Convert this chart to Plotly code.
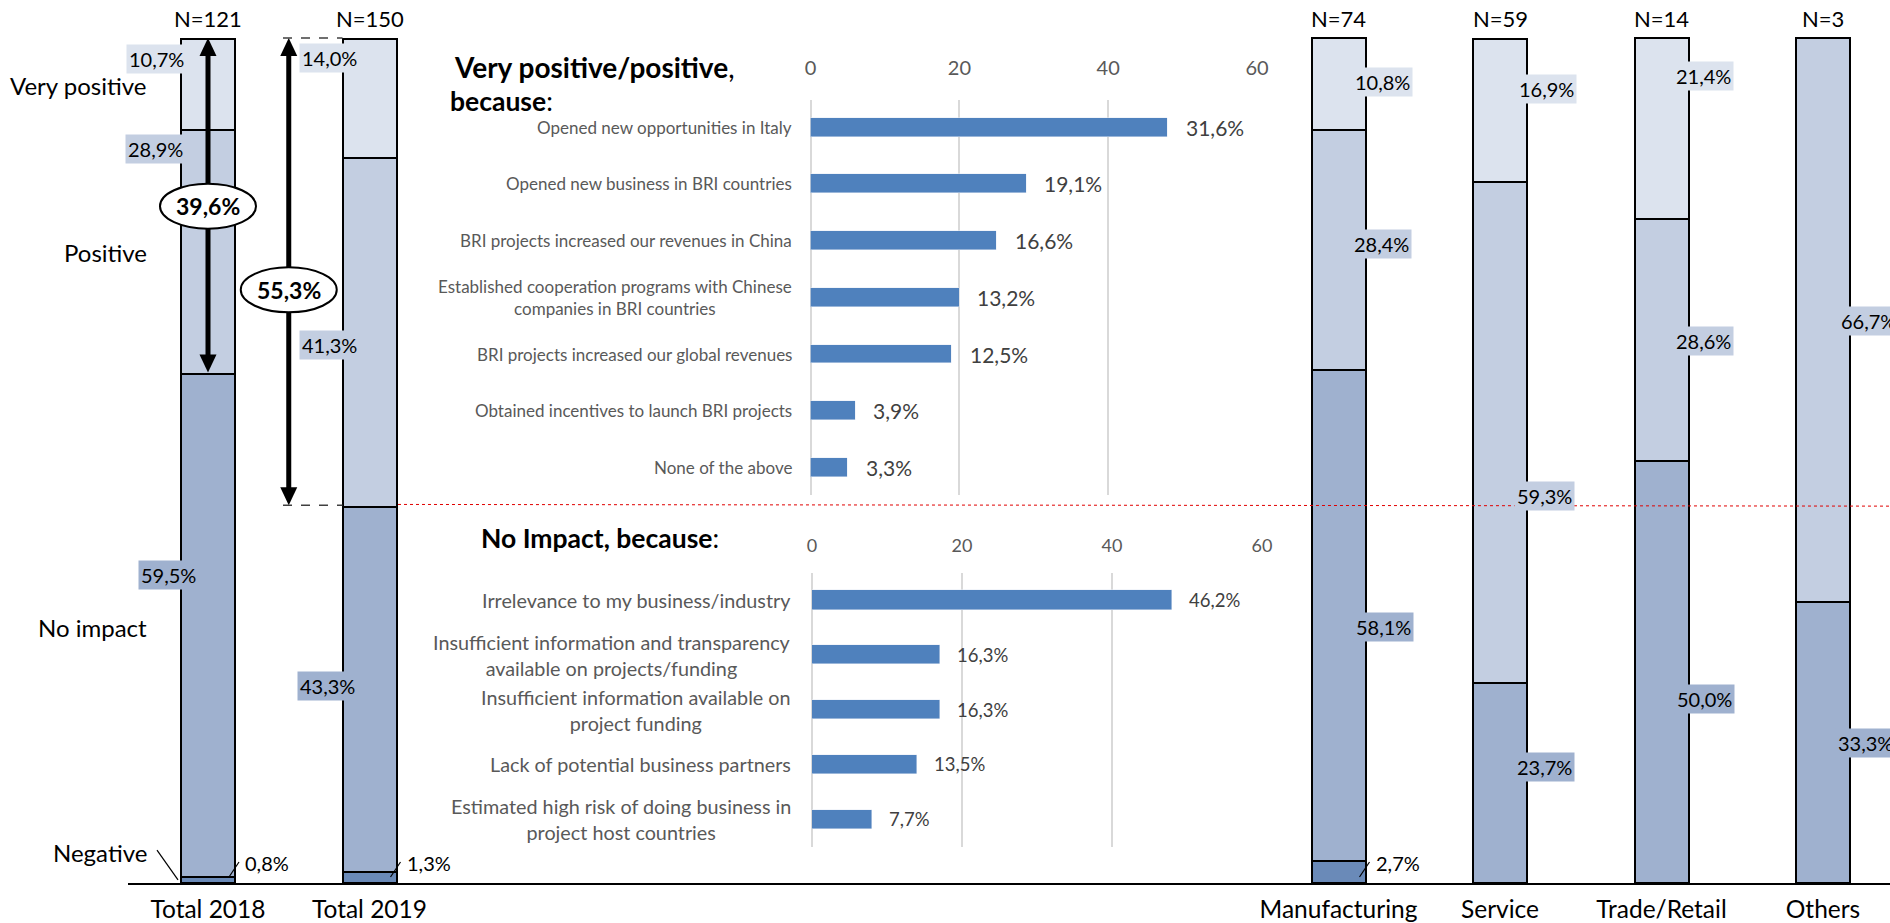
import plotly.graph_objects as go

# ---------------- data ----------------
categories = ["Total 2018", "Total 2019", "Manufacturing", "Service", "Trade/Retail", "Others"]
sample_sizes = ["N=121", "N=150", "N=74", "N=59", "N=14", "N=3"]
very_positive = [10.7, 14.0, 10.8, 16.9, 21.4, 0.0]
positive = [28.9, 41.3, 28.4, 59.3, 28.6, 66.7]
no_impact = [59.5, 43.3, 58.1, 23.7, 50.0, 33.3]
negative = [0.8, 1.3, 2.7, 0.0, 0.0, 0.0]

pos_reasons = [
    "Opened new opportunities in Italy",
    "Opened new business in BRI countries",
    "BRI projects increased our revenues in China",
    "Established cooperation programs with Chinese<br>companies in BRI countries",
    "BRI projects increased our global revenues",
    "Obtained incentives to launch BRI projects",
    "None of the above",
]
pos_counts = [48, 29, 25, 20, 19, 6, 5]
pos_shares = [31.6, 19.1, 16.6, 13.2, 12.5, 3.9, 3.3]

noimp_reasons = [
    "Irrelevance to my business/industry",
    "Insufficient information and transparency<br>available on projects/funding",
    "Insufficient information available on<br>project funding",
    "Lack of potential business partners",
    "Estimated high risk of doing business in<br>project host countries",
]
noimp_counts = [48, 17, 17, 14, 8]
noimp_shares = [46.2, 16.3, 16.3, 13.5, 7.7]

reason_ticks = [0, 20, 40, 60]
level_names = ["Very positive", "Positive", "No impact", "Negative"]

# ---------------- styling / geometry ----------------
FONT = "Lato, 'Open Sans', sans-serif"
W, H = 1890, 923
C_VP, C_P, C_NI, C_NEG = "#DCE3EE", "#C3CEE1", "#9FB1CF", "#6A8AB8"
BAR_BLUE = "#4F81BD"
GRID = "#D9D9D9"


def fmt(v):
    return f"{v:.1f}".replace(".", ",") + "%"


def fx(p):
    return p / W


def fy(p):
    return 1 - p / H


X0_PX, STEP_PX = 208.0, 161.5
BASE_PX, UNIT_PX = 883.0, 8.45
Y_TOP = 101.0
cat_x = [0, 1, 7, 8, 9, 10]
BAR_W = 54 / STEP_PX

fig = go.Figure()

# ---------------- stacked bars ----------------
stack = [(negative, C_NEG), (no_impact, C_NI), (positive, C_P), (very_positive, C_VP)]
for vals, col in stack:
    fig.add_trace(go.Bar(
        x=cat_x, y=vals, width=BAR_W, marker=dict(color=col, line=dict(color="black", width=2)),
        xaxis="x", yaxis="y", hoverinfo="skip"))

# ---------------- reason bars ----------------
fig.add_trace(go.Bar(x=pos_counts, y=list(range(len(pos_counts))), orientation="h", width=0.335,
                     marker=dict(color=BAR_BLUE), xaxis="x2", yaxis="y2", hoverinfo="skip"))
fig.add_trace(go.Bar(x=noimp_counts, y=list(range(len(noimp_counts))), orientation="h", width=0.352,
                     marker=dict(color=BAR_BLUE), xaxis="x3", yaxis="y3", hoverinfo="skip"))

ann = []
shapes = []

# N labels
for i, n in enumerate(sample_sizes):
    ann.append(dict(x=cat_x[i], y=100, xref="x", yref="y", text=n, showarrow=False, yshift=20,
                    font=dict(family=FONT, size=22, color="black")))

# segment labels (placement: xshift px, y value)
label_place = {
    "Very positive": [(-52, 97.5), (-40, 97.6), (44, 94.8), (46, 94.0), (42, 95.5), None],
    "Positive": [(-53, 86.9), (-40, 63.7), (43, 75.6), (44, 45.8), (42, 64.1), (45, 66.5)],
    "No impact": [(-40, 36.4), (-42, 23.3), (45, 30.3), (44, 13.7), (43, 21.8), (42, 16.6)],
}
series_map = {"Very positive": (very_positive, C_VP), "Positive": (positive, C_P), "No impact": (no_impact, C_NI)}
for name, places in label_place.items():
    vals, col = series_map[name]
    for i, pl in enumerate(places):
        if pl is None or vals[i] <= 0:
            continue
        ann.append(dict(x=cat_x[i], y=pl[1], xref="x", yref="y", xshift=pl[0], text=fmt(vals[i]),
                        showarrow=False, bgcolor=col, borderpad=2, xanchor="center",
                        font=dict(family=FONT, size=20, color="black")))

# negative labels with leader lines
for i, v in enumerate(negative):
    if v <= 0:
        continue
    ann.append(dict(x=cat_x[i], y=2.4, xref="x", yref="y", xshift=35, xanchor="left", text=fmt(v),
                    showarrow=False, font=dict(family=FONT, size=20, color="black")))
    shapes.append(dict(type="line", xref="x", yref="y", x0=cat_x[i] + 0.13, y0=0.71,
                       x1=cat_x[i] + 0.192, y1=2.49, line=dict(color="black", width=1.2)))

# left level labels
for name, ypx in zip(level_names, [85, 252, 627, 852]):
    ann.append(dict(x=fx(149), y=fy(ypx), xref="paper", yref="paper", xanchor="right", yanchor="middle",
                    text=name, showarrow=False, font=dict(family=FONT, size=24, color="black")))
shapes.append(dict(type="line", xref="x", yref="y", x0=(157 - X0_PX) / STEP_PX, y0=3.9,
                   x1=(178 - X0_PX) / STEP_PX, y1=0.36, line=dict(color="black", width=1.2)))

# double arrows with ellipses
arrows = [
    (cat_x[0], 100 - (very_positive[0] + positive[0]), 80.1, fmt(very_positive[0] + positive[0])),
    ((cat_x[0] + cat_x[1]) / 2, 100 - (very_positive[1] + positive[1]), 70.2, fmt(very_positive[1] + positive[1])),
]
for ax_, yend, cy, txt in arrows:
    shapes.append(dict(type="line", xref="x", yref="y", x0=ax_, x1=ax_, y0=100 - 1.5, y1=yend + 1.5,
                       line=dict(color="black", width=5)))
    shapes.append(dict(type="path", xref="x", yref="y", xsizemode="pixel", ysizemode="pixel",
                       xanchor=ax_, yanchor=100, path="M 0 0 L -8.5 -18 L 8.5 -18 Z",
                       fillcolor="black", line=dict(width=0)))
    shapes.append(dict(type="path", xref="x", yref="y", xsizemode="pixel", ysizemode="pixel",
                       xanchor=ax_, yanchor=yend, path="M 0 0 L -8.5 18 L 8.5 18 Z",
                       fillcolor="black", line=dict(width=0)))
    shapes.append(dict(type="circle", xref="x", yref="y", xsizemode="pixel", ysizemode="pixel",
                       xanchor=ax_, yanchor=cy, x0=-48, x1=48, y0=-22.5, y1=22.5,
                       fillcolor="white", line=dict(color="black", width=2)))
    ann.append(dict(x=ax_, y=cy, xref="x", yref="y", text="<b>" + txt + "</b>", showarrow=False,
                    font=dict(family=FONT, size=23, color="black")))

# dashed guide lines for 2019
x_dash0 = (283 - X0_PX) / STEP_PX
x_dash1 = cat_x[1] - BAR_W / 2
for yv in [100, 100 - (very_positive[1] + positive[1])]:
    shapes.append(dict(type="line", xref="x", yref="y", x0=x_dash0, x1=x_dash1, y0=yv, y1=yv,
                       line=dict(color="#404040", width=1.5, dash="dash")))

# red dotted line
shapes.append(dict(type="line", xref="paper", yref="y", x0=fx(398), x1=1, y0=44.8, y1=44.6,
                   line=dict(color="#E00000", width=1, dash="dot")))

# reason chart titles
ann.append(dict(x=fx(452), y=fy(67), xref="paper", yref="paper", xanchor="left", yanchor="middle",
                text="<b>Very positive/positive</b>,", showarrow=False,
                font=dict(family=FONT, size=28, color="black")))
ann.append(dict(x=fx(448), y=fy(101), xref="paper", yref="paper", xanchor="left", yanchor="middle",
                text="<b>because</b>:", showarrow=False, font=dict(family=FONT, size=26.5, color="black")))
ann.append(dict(x=fx(479), y=fy(538), xref="paper", yref="paper", xanchor="left", yanchor="middle",
                text="<b>No Impact, because</b>:", showarrow=False,
                font=dict(family=FONT, size=26.5, color="black")))

# reason labels
for i, (r, c, s) in enumerate(zip(pos_reasons, pos_counts, pos_shares)):
    ann.append(dict(x=0, y=i, xref="x2", yref="y2", xshift=-17, xanchor="right", align="center", text=r,
                    showarrow=False, font=dict(family=FONT, size=17, color="#595959")))
    ann.append(dict(x=c, y=i, xref="x2", yref="y2", xshift=16, xanchor="left", text=fmt(s),
                    showarrow=False, font=dict(family=FONT, size=21, color="#404040")))
for i, (r, c, s) in enumerate(zip(noimp_reasons, noimp_counts, noimp_shares)):
    ann.append(dict(x=0, y=i, xref="x3", yref="y3", xshift=-19, xanchor="right", align="center", text=r,
                    showarrow=False, font=dict(family=FONT, size=19.8, color="#595959")))
    ann.append(dict(x=c, y=i, xref="x3", yref="y3", xshift=15, xanchor="left", text=fmt(s),
                    showarrow=False, font=dict(family=FONT, size=18.5, color="#404040")))

reason_axis = dict(range=[0, 60], side="top", tickvals=reason_ticks, showgrid=True, gridcolor=GRID,
                   gridwidth=2, zeroline=True, zerolinecolor=GRID, zerolinewidth=2, showline=False,
                   ticks="", fixedrange=True, automargin=False)

fig.update_layout(
    width=W, height=H, autosize=False,
    margin=dict(l=0, r=0, t=0, b=0, pad=0, autoexpand=False),
    paper_bgcolor="white", plot_bgcolor="rgba(0,0,0,0)",
    barmode="stack", bargap=0, showlegend=False,
    font=dict(family=FONT),
    xaxis=dict(domain=[fx(128), 1], range=[(128 - X0_PX) / STEP_PX, (W - X0_PX) / STEP_PX],
               tickvals=cat_x, ticktext=categories, showline=True, linecolor="black", linewidth=2,
               ticks="", showgrid=False, zeroline=False, tickfont=dict(size=24.5, color="black"),
               ticklabelstandoff=4, anchor="y", automargin=False, fixedrange=True),
    yaxis=dict(domain=[fy(BASE_PX), fy(BASE_PX - Y_TOP * UNIT_PX)], range=[0, Y_TOP], visible=False,
               anchor="x", automargin=False, fixedrange=True),
    xaxis2=dict(domain=[fx(810.6), fx(1257)], anchor="y2", tickfont=dict(size=20, color="#595959"),
                ticklabelstandoff=20, **reason_axis),
    yaxis2=dict(domain=[fy(495), fy(100)], range=[6.488, -0.482], anchor="x2", visible=False,
                automargin=False),
    xaxis3=dict(domain=[fx(812), fx(1262)], anchor="y3", tickfont=dict(size=18, color="#595959"),
                ticklabelstandoff=16, **reason_axis),
    yaxis3=dict(domain=[fy(847), fy(573)], range=[4.507, -0.493], anchor="x3", visible=False,
                automargin=False),
    annotations=ann, shapes=shapes,
)

fig.write_html("out.html", config={"displayModeBar": False, "responsive": False},
               post_script="document.body.style.margin='0';document.body.style.overflow='hidden';")
